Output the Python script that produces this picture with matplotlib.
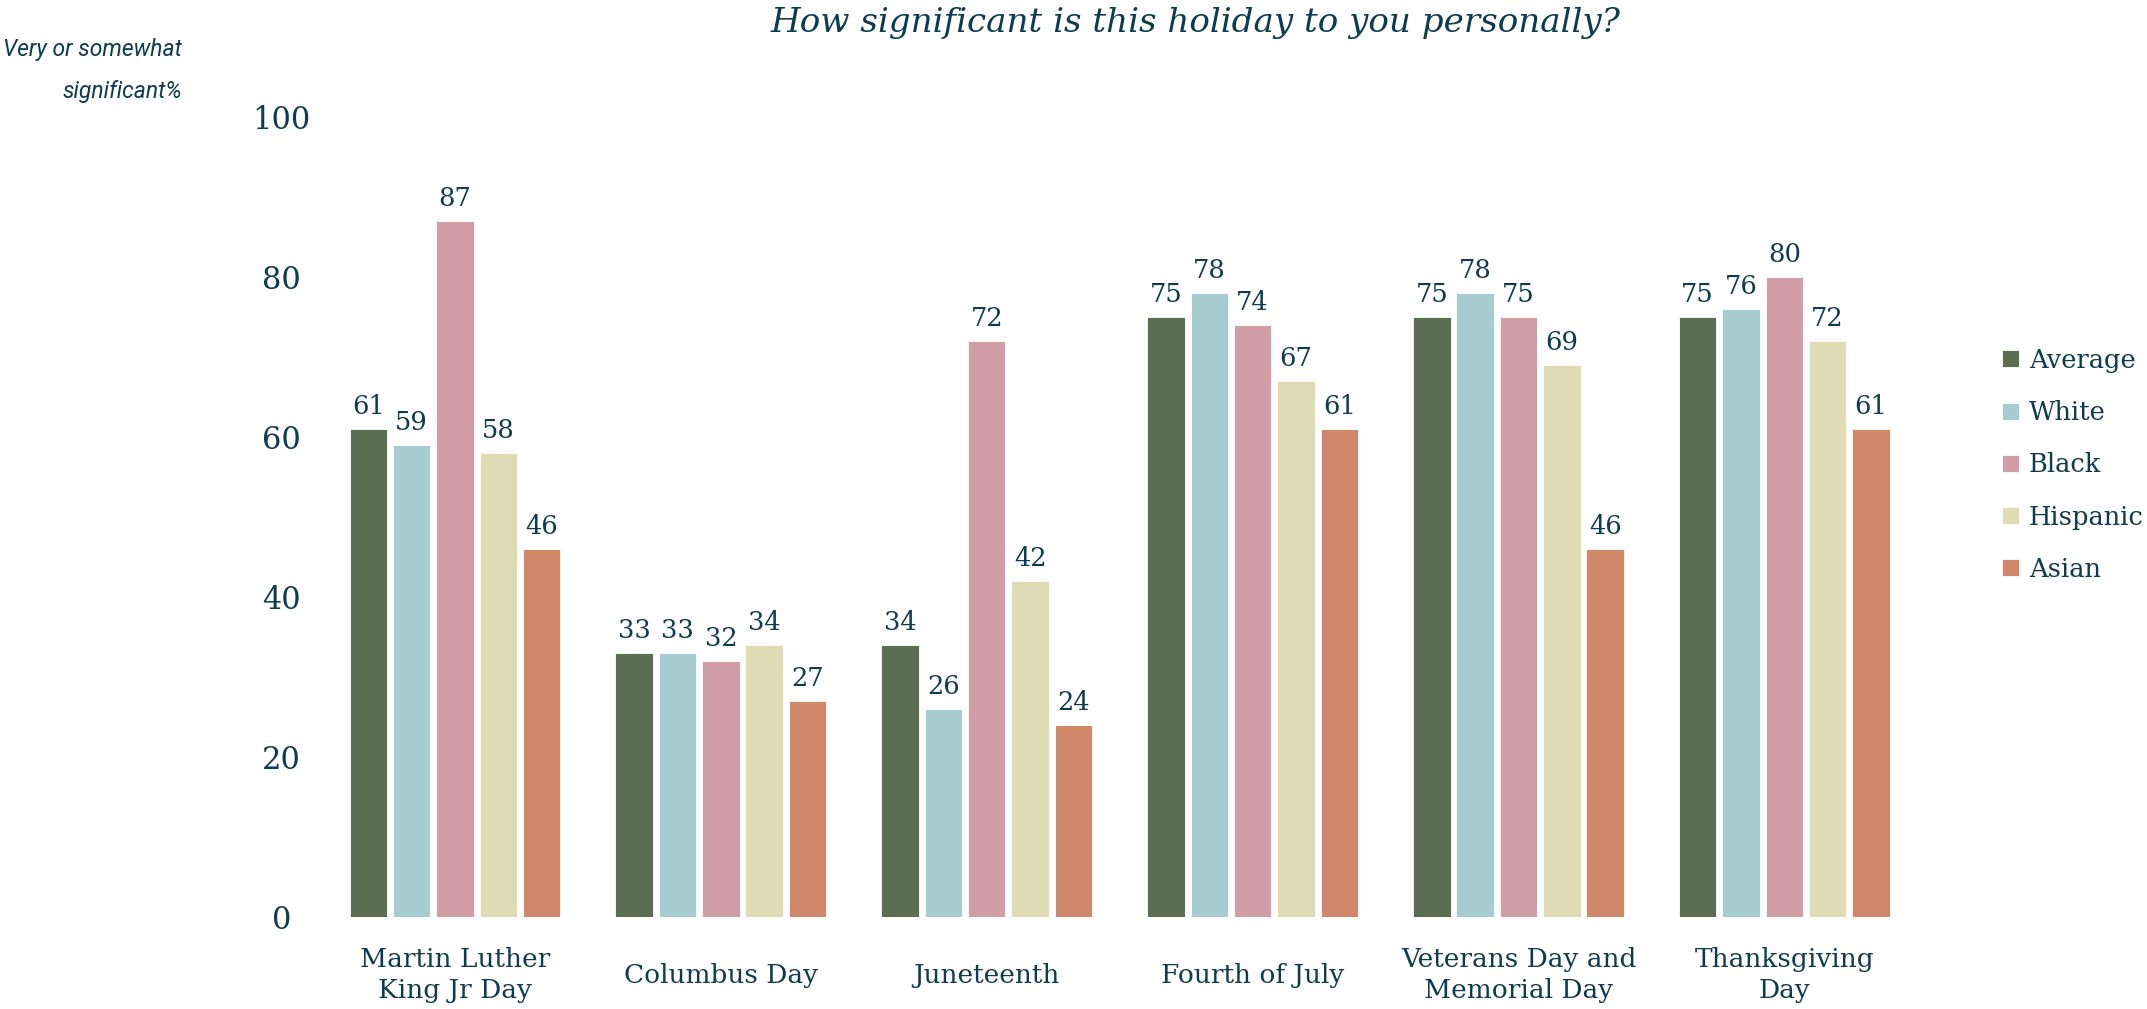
import matplotlib

matplotlib.use("Agg")
import matplotlib.pyplot as plt
import numpy as np

holidays = [
    "Martin Luther\nKing Jr Day",
    "Columbus Day",
    "Juneteenth",
    "Fourth of July",
    "Veterans Day and\nMemorial Day",
    "Thanksgiving\nDay",
]
groups = ["Average", "White", "Black", "Hispanic", "Asian"]
average = [61, 33, 34, 75, 75, 75]
white = [59, 33, 26, 78, 78, 76]
black = [87, 32, 72, 74, 75, 80]
hispanic = [58, 34, 42, 67, 69, 72]
asian = [46, 27, 24, 61, 46, 61]
colors = ["#5b6e52", "#a6cbd1", "#d19ea8", "#dedbb5", "#d0886a"]

TEXT = "#0d3b4f"
SERIF = "DejaVu Serif"


def build_plot():
    fig = plt.figure(figsize=(21.47, 10.09), dpi=100)
    ax = fig.add_axes([0.150, 0.0912, 0.743, 0.793])

    series = [average, white, black, hispanic, asian]
    x = np.arange(len(holidays))
    pitch = 0.163
    width = 0.141
    for i, (vals, name, c) in enumerate(zip(series, groups, colors)):
        pos = x + (i - 2) * pitch
        bars = ax.bar(pos, vals, width=width, color=c, label=name,
                      edgecolor="white", linewidth=0.6)
        ax.bar_label(bars, padding=7, fontsize=18.5, color=TEXT, family=SERIF)

    ax.set_xlim(-0.5, len(holidays) - 0.5)
    ax.set_ylim(0, 100)
    ax.set_yticks([0, 20, 40, 60, 80, 100])
    ax.set_xticks(x)
    ax.set_xticklabels(holidays, va="center", ha="center", family=SERIF,
                       fontsize=19, color=TEXT, linespacing=1.29)
    for lab in ax.get_yticklabels():
        lab.set_ha("center")
        lab.set_family(SERIF)
        lab.set_fontsize(22)
        lab.set_color(TEXT)
    ax.tick_params(axis="x", length=0, pad=42)
    ax.tick_params(axis="y", length=0, pad=29)
    for s in ax.spines.values():
        s.set_visible(False)

    fig.text(0.557, 0.977, "How significant is this holiday to you personally?",
             ha="center", va="center", fontsize=24.6, style="italic",
             family=SERIF, color=TEXT)
    fig.text(0.0848, 0.930, "Very or somewhat\nsignificant%", ha="right",
             va="center", fontsize=16.5, style="italic",
             family=["Roboto", "DejaVu Sans"], color=TEXT,
             linespacing=2.05)

    leg = ax.legend(loc="center left", bbox_to_anchor=(1.045, 0.565), frameon=False,
                    handlelength=0.65, handleheight=0.65, handletextpad=0.4,
                    labelspacing=1.06, borderpad=0,
                    prop={"family": SERIF, "size": 18.5})
    for t in leg.get_texts():
        t.set_color(TEXT)
    return fig, ax


def main() -> None:
    fig, _ = build_plot()
    fig.savefig("out.png", dpi=100)


if __name__ == "__main__":
    main()
